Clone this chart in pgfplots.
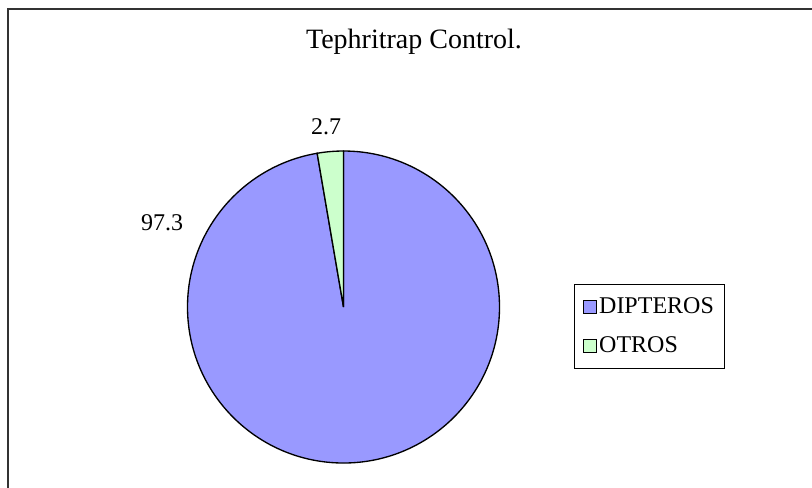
\documentclass[border=0pt]{standalone}
\usepackage{pgfplots}
\pgfplotsset{compat=1.18}
\usepackage{pgfplotstable}
\usepackage{fontspec}
\setmainfont{Liberation Serif}
\definecolor{dipteros}{HTML}{9999FF}
\definecolor{otros}{HTML}{CCFFCC}
\definecolor{chartframe}{HTML}{333333}

% share of each group, in percent
\pgfplotstableread{
label share
DIPTEROS 97.3
OTROS 2.7
}\pietable

\begin{document}
\begin{tikzpicture}
\pgfplotstablegetelem{0}{share}\of\pietable \let\valA\pgfplotsretval
\pgfplotstablegetelem{1}{share}\of\pietable \let\valB\pgfplotsretval
\pgfmathsetmacro\angA{90-3.6*\valA}
\pgfmathsetmacro\angB{90+3.6*\valB}
\begin{axis}[
  width=609pt, height=365.25pt, scale only axis,
  xmin=0, xmax=812, ymin=0, ymax=487, y dir=reverse,
  hide axis, clip=false,
  legend style={at={(axis cs:574,284)}, anchor=north west, draw=black,
    line width=0.75pt, font=\fontsize{18}{20}\selectfont,
    cells={anchor=west}, row sep=12pt, inner xsep=6pt, inner ysep=8pt},
  legend image code/.code={\draw[#1,draw=black,line width=0.75pt] (0pt,-4.9pt) rectangle (9.75pt,4.9pt);},
]
\draw[chartframe, line width=1.5pt] (axis cs:8,900) -- (axis cs:8,9) -- (axis cs:1000,9);
\filldraw[fill=dipteros, draw=black, line width=1pt]
  (axis cs:343.5,307) -- ++(90:117pt) arc[start angle=90, end angle=\angA, radius=117pt] -- cycle;
\filldraw[fill=otros, draw=black, line width=1pt]
  (axis cs:343.5,307) -- ++(90:117pt) arc[start angle=90, end angle=\angB, radius=117pt] -- cycle;
\node[anchor=base, font=\fontsize{21}{24}\selectfont] at (axis cs:414,48) {Tephritrap Control.};
\node[anchor=base, font=\fontsize{18}{20}\selectfont] at (axis cs:326,134) {\valB};
\node[anchor=base, font=\fontsize{18}{20}\selectfont] at (axis cs:162,230) {\valA};
\addlegendimage{fill=dipteros}
\addlegendentry{DIPTEROS}
\addlegendimage{fill=otros}
\addlegendentry{OTROS}
\coordinate (bl) at (rel axis cs:0,0);
\coordinate (tr) at (rel axis cs:1,1);
\end{axis}
\pgfresetboundingbox
\path (bl) rectangle (tr);
\end{tikzpicture}
\end{document}
